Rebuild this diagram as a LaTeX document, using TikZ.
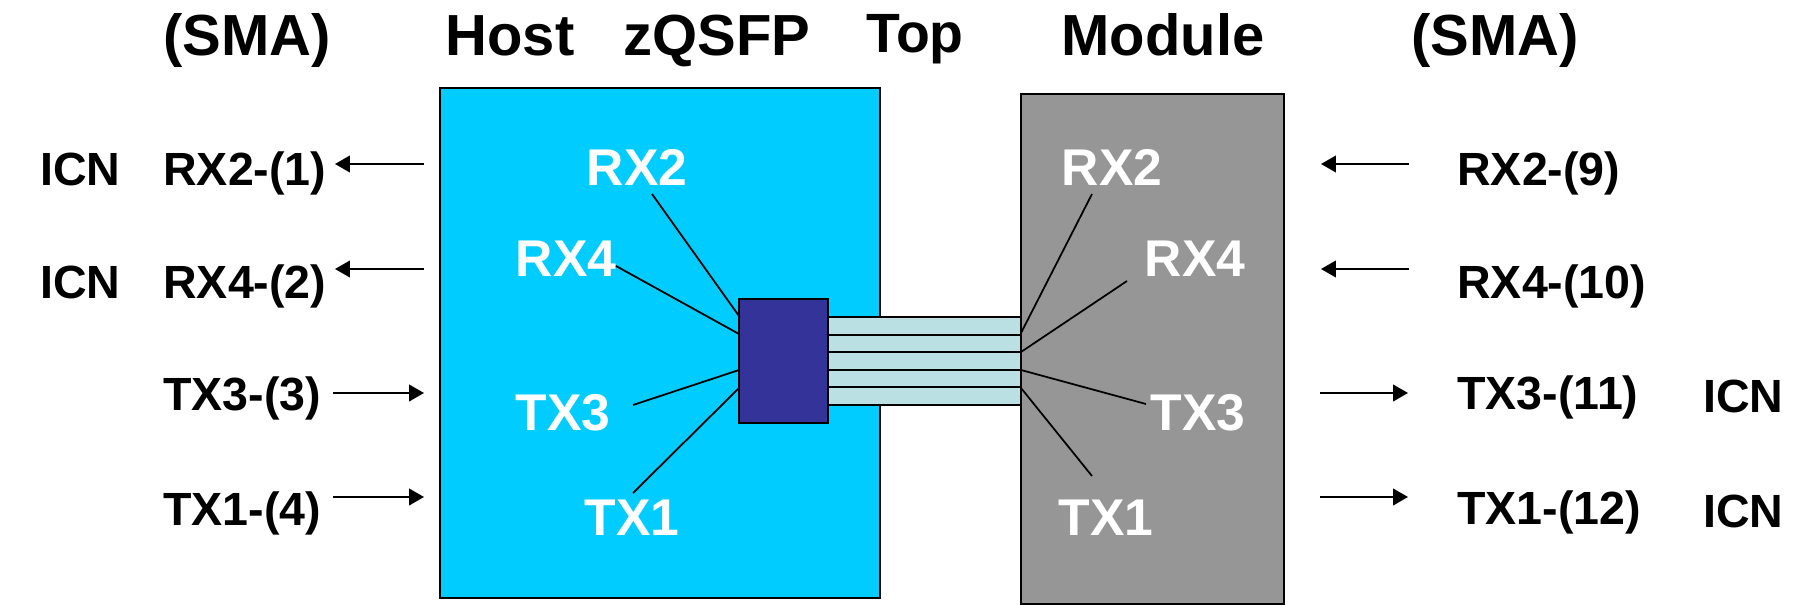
\documentclass[tikz,border=0pt]{standalone}
\usepackage{fontspec}
\setmainfont{Liberation Sans}
\usepackage{xcolor}
\usetikzlibrary{arrows.meta}
\definecolor{hostblue}{HTML}{00CCFF}
\definecolor{modgrey}{HTML}{969696}
\definecolor{chipblue}{HTML}{333399}
\definecolor{lanecyan}{HTML}{BBE0E3}
\tikzset{
  head/.style={anchor=base, inner sep=0pt, font=\bfseries\fontsize{33}{34}\selectfont},
  pinlabel/.style={anchor=base west, inner sep=0pt, font=\bfseries\fontsize{26.5}{27}\selectfont},
  lanelabel/.style={anchor=base, inner sep=0pt, text=white, font=\bfseries\fontsize{29.4}{30}\selectfont},
  lane/.style={draw, fill=lanecyan, line width=1.1pt, rectangle, inner sep=0pt, minimum width=3.86cm, minimum height=0.35cm},
  wire/.style={line width=1pt},
  sig/.style={-{Triangle[length=8.5pt,width=9.5pt]}, line width=1pt}
}
\begin{document}
\begin{tikzpicture}[x=0.02cm, y=-0.02cm]
            \useasboundingbox (0,0) rectangle (1796,605);
            % boards
            \node[draw, rectangle, fill=hostblue, line width=0.8pt, minimum width=8.8cm, minimum height=10.2cm] (host) at (660,343) {};
            \node[draw, rectangle, fill=modgrey, line width=0.8pt, minimum width=5.26cm, minimum height=10.2cm] (module) at (1152.5,349) {};
            % ribbon
            \node[lane] (lane1) at (924.5,326) {};
            \node[lane] (lane2) at (924.5,343.5) {};
            \node[lane] (lane3) at (924.5,361) {};
            \node[lane] (lane4) at (924.5,378.5) {};
            \node[lane] (lane5) at (924.5,396) {};
            \node[draw, rectangle, fill=chipblue, line width=1.1pt, minimum width=1.78cm, minimum height=2.48cm] (chip) at (783.5,361) {};
            % headings
            \node[head] (smaleft) at (247,55) {(SMA)};
            \node[head] (hosttext) at (510,55) {Host};
            \node[head] (zqsfp) at (717,55) {zQSFP};
            \node[head, font=\bfseries\fontsize{31.5}{32}\selectfont] (top) at (915,52) {Top};
            \node[head] (moduletext) at (1163,55) {Module};
            \node[head] (smaright) at (1495,55) {(SMA)};
            % left side
            \node[pinlabel] (icn1) at (40,185) {ICN};
            \node[pinlabel] (icn2) at (40,298) {ICN};
            \node[pinlabel] (lrx2) at (163,185) {RX2-(1)};
            \node[pinlabel] (lrx4) at (163,298) {RX4-(2)};
            \node[pinlabel] (ltx3) at (163,410) {TX3-(3)};
            \node[pinlabel] (ltx1) at (163,525) {TX1-(4)};
            % right side
            \node[pinlabel] (rrx2) at (1457,185) {RX2-(9)};
            \node[pinlabel] (rrx4) at (1457,298) {RX4-(10)};
            \node[pinlabel] (rtx3) at (1457,409) {TX3-(11)};
            \node[pinlabel] (rtx1) at (1457,524) {TX1-(12)};
            \node[pinlabel] (icn3) at (1703,412) {ICN};
            \node[pinlabel] (icn4) at (1703,527) {ICN};
            % white labels
            \node[lanelabel] (hrx2) at (637,185) {RX2};
            \node[lanelabel] (hrx4) at (566,276) {RX4};
            \node[lanelabel] (htx3) at (563,430) {TX3};
            \node[lanelabel] (htx1) at (632,535) {TX1};
            \node[lanelabel] (mrx2) at (1112,185) {RX2};
            \node[lanelabel] (mrx4) at (1195,276) {RX4};
            \node[lanelabel] (mtx3) at (1198,430) {TX3};
            \node[lanelabel] (mtx1) at (1106,535) {TX1};
            % wire ends
            \coordinate (h1) at (739,316);
            \coordinate (h2) at (739,334);
            \coordinate (h3) at (739,370);
            \coordinate (h4) at (739,388);
            \coordinate (h1a) at (652,194);
            \coordinate (h2a) at (616,266);
            \coordinate (h3a) at (633,405);
            \coordinate (h4a) at (633,493);
            \coordinate (m1) at (1021,333);
            \coordinate (m2) at (1021,352);
            \coordinate (m3) at (1021,370);
            \coordinate (m4) at (1021,388);
            \coordinate (m1a) at (1092,194);
            \coordinate (m2a) at (1127,281);
            \coordinate (m3a) at (1146,404);
            \coordinate (m4a) at (1092,476);

            \draw[wire] (h1) -- (h1a);
            \draw[wire] (h2) -- (h2a);
            \draw[wire] (h3) -- (h3a);
            \draw[wire] (h4) -- (h4a);
            \draw[wire] (m1) -- (m1a);
            \draw[wire] (m2) -- (m2a);
            \draw[wire] (m3) -- (m3a);
            \draw[wire] (m4) -- (m4a);
            % arrows
            \coordinate (a1) at (424,164);
            \coordinate (a1a) at (335,164);
            \coordinate (a2) at (424,269);
            \coordinate (a2a) at (335,269);
            \coordinate (a3) at (333,393);
            \coordinate (a3a) at (424,393);
            \coordinate (a4) at (333,497);
            \coordinate (a4a) at (424,497);
            \coordinate (b1) at (1409,164);
            \coordinate (b1a) at (1321,164);
            \coordinate (b2) at (1409,269);
            \coordinate (b2a) at (1321,269);
            \coordinate (b3) at (1320,393);
            \coordinate (b3a) at (1408,393);
            \coordinate (b4) at (1320,497);
            \coordinate (b4a) at (1408,497);

            \draw[sig] (a1) -- (a1a);
            \draw[sig] (a2) -- (a2a);
            \draw[sig] (a3) -- (a3a);
            \draw[sig] (a4) -- (a4a);
            \draw[sig] (b1) -- (b1a);
            \draw[sig] (b2) -- (b2a);
            \draw[sig] (b3) -- (b3a);
            \draw[sig] (b4) -- (b4a);
        \end{tikzpicture}
\end{document}
